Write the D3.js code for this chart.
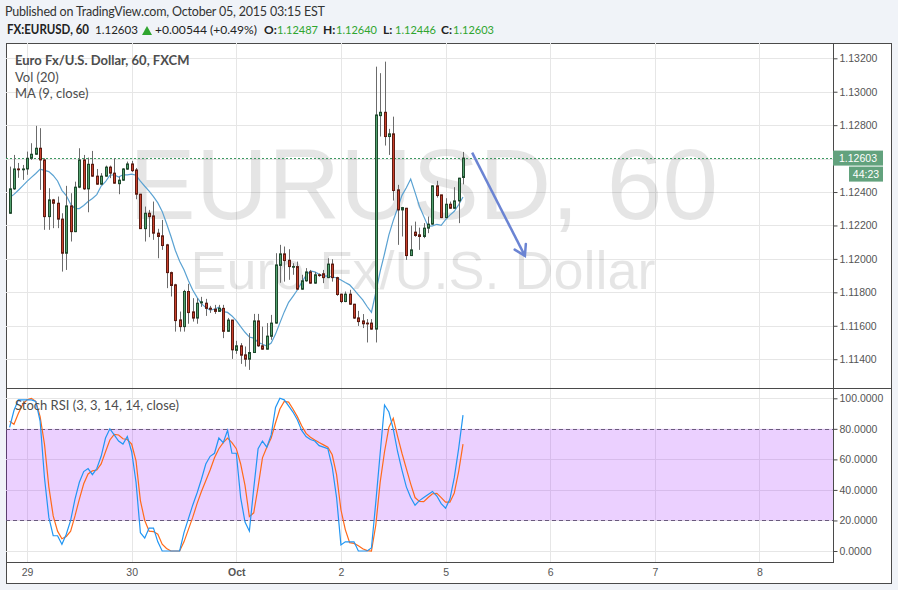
<!DOCTYPE html>
<html><head><meta charset="utf-8">
<script src="https://cdnjs.cloudflare.com/ajax/libs/d3/7.8.5/d3.min.js"></script>
<style>
html,body{margin:0;padding:0;background:#f0f3f8;}
svg{display:block;}
</style></head><body>
<svg id="chart" width="898" height="590"></svg>
<script>
// ---------- DATA ----------
const opens=[1.12273,1.12419,1.12538,1.12535,1.12538,1.12602,1.12626,1.12662,1.12592,1.12253,
1.12353,1.12333,1.12238,1.12034,1.12317,1.12163,1.12429,1.12592,1.12419,1.12566,
1.12495,1.12447,1.12495,1.12549,1.12513,1.12450,1.12471,1.12537,1.12568,1.12532,
1.12387,1.12181,1.12273,1.12257,1.12154,1.12138,1.12084,1.11918,1.11845,1.11635,
1.11595,1.11805,1.11683,1.11646,1.11737,1.11735,1.11705,1.11699,1.11686,1.11704,
1.11567,1.11634,1.11453,1.11480,1.11426,1.11400,1.11440,1.11629,1.11480,1.11460,
1.11537,1.11616,1.11961,1.12030,1.11992,1.11954,1.11954,1.11819,1.11869,1.11922,
1.11855,1.11905,1.11911,1.11888,1.11969,1.11888,1.11789,1.11745,1.11789,1.11729,
1.11647,1.11629,1.11616,1.11616,1.11580,1.12857,1.12877,1.12732,1.12748,1.12413,
1.12293,1.12303,1.12020,1.12160,1.12144,1.12134,1.12184,1.12208,1.12437,1.12383,
1.12247,1.12327,1.12303,1.12347,1.12487];
const highs=[1.12552,1.12622,1.12574,1.12562,1.12642,1.12692,1.12796,1.12782,1.12602,1.12423,
1.12359,1.12373,1.12273,1.12437,1.12393,1.12462,1.12662,1.12622,1.12606,1.12646,
1.12538,1.12513,1.12558,1.12558,1.12602,1.12492,1.12543,1.12582,1.12586,1.12544,
1.12389,1.12313,1.12293,1.12343,1.12180,1.12233,1.12090,1.11924,1.11851,1.11685,
1.11815,1.11851,1.11765,1.11765,1.11773,1.11761,1.11719,1.11725,1.11725,1.11725,
1.11647,1.11635,1.11510,1.11496,1.11476,1.11556,1.11671,1.11671,1.11595,1.11616,
1.11665,1.12034,1.12084,1.12074,1.12058,1.11974,1.11984,1.11905,1.11945,1.11934,
1.11922,1.11913,1.11934,1.12004,1.11998,1.11893,1.11791,1.11805,1.11815,1.11731,
1.11689,1.11670,1.11640,1.11640,1.13150,1.13111,1.13180,1.12778,1.12851,1.12443,
1.12311,1.12305,1.12199,1.12223,1.12187,1.12214,1.12253,1.12440,1.12467,1.12383,
1.12363,1.12343,1.12429,1.12485,1.12640];
const lows=[1.12269,1.12413,1.12485,1.12473,1.12503,1.12592,1.12622,1.12413,1.12174,1.12174,
1.12184,1.12184,1.11924,1.11934,1.12104,1.12160,1.12423,1.12413,1.12279,1.12491,
1.12443,1.12443,1.12491,1.12483,1.12450,1.12387,1.12467,1.12532,1.12520,1.12357,
1.12179,1.12104,1.12130,1.12114,1.12004,1.12054,1.11825,1.11775,1.11565,1.11565,
1.11565,1.11612,1.11625,1.11612,1.11713,1.11659,1.11677,1.11671,1.11683,1.11526,
1.11564,1.11402,1.11432,1.11372,1.11356,1.11336,1.11438,1.11474,1.11456,1.11457,
1.11516,1.11612,1.11857,1.11864,1.11875,1.11905,1.11815,1.11815,1.11863,1.11851,
1.11851,1.11893,1.11855,1.11885,1.11864,1.11779,1.11735,1.11741,1.11725,1.11641,
1.11599,1.11586,1.11500,1.11576,1.11500,1.12732,1.12678,1.12622,1.12349,1.12084,
1.12134,1.11994,1.12017,1.12132,1.12054,1.12124,1.12154,1.12204,1.12367,1.12244,
1.12244,1.12299,1.12299,1.12214,1.12446];
const closes=[1.12419,1.12538,1.12535,1.12538,1.12602,1.12626,1.12662,1.12592,1.12253,1.12353,
1.12333,1.12238,1.12034,1.12317,1.12163,1.12429,1.12592,1.12419,1.12566,1.12495,
1.12447,1.12495,1.12549,1.12513,1.12453,1.12471,1.12538,1.12568,1.12528,1.12387,
1.12181,1.12273,1.12253,1.12154,1.12134,1.12080,1.11918,1.11841,1.11631,1.11595,
1.11805,1.11679,1.11646,1.11735,1.11743,1.11704,1.11699,1.11686,1.11705,1.11567,
1.11634,1.11456,1.11480,1.11424,1.11400,1.11440,1.11629,1.11480,1.11460,1.11538,
1.11616,1.11964,1.12030,1.11990,1.11954,1.11955,1.11819,1.11869,1.11922,1.11855,
1.11905,1.11903,1.11888,1.11969,1.11888,1.11787,1.11745,1.11789,1.11729,1.11646,
1.11625,1.11612,1.11615,1.11580,1.12861,1.12877,1.12732,1.12748,1.12409,1.12293,
1.12307,1.12020,1.12054,1.12140,1.12134,1.12184,1.12208,1.12437,1.12379,1.12247,
1.12327,1.12303,1.12347,1.12483,1.12603];
// MA(9) values of the first 8 bars (earlier closes are off-chart)
const maLead=[1.12368,1.12386,1.12411,1.12437,1.12464,1.12488,1.12511,1.12537];
const stochK=[81,92,99,99,99,99,98,85,48,22,10,10,4.4,11,20,34,45,52,54,50,
54,62,74,80,76,72,70,75,65,45,12,8.5,15,15,6,0,0,0,0,0,
12,21,30,38,47,57,62,64,74,71,79,64,64,35,19,13,41,67,72,68,
76,94,100,99,95,91,86,79,75,73,72,69,68,67,55,35,4,6,6,6,
0,0,0,2,32,64,95.6,91,80,65,53,42,35,30,33,35,37,39,36,31,
28,34,48,67,89];
const stochD=[85,83,90,96,99,100,98,88,70,42,23,13,8,9.5,13,23,34,44,50.5,52.5,
53,57,65,72.7,76.4,76,73.5,73,70,59,33,20,13,12.7,11,4.5,1.7,0,0,0,
6,14,22,31,39,46,53,61,67,71,74,71,67,57,43,22.5,25,42,61,68,
74,84,93,98,97.5,93,88,82,77,74.5,72.7,71,69.5,68,63,50,27,14,5.5,5,
3.5,1.5,0.3,0,17,45,65,81,86.9,75,64,54,44,35,32.5,32.3,35,37.5,37.8,35,
32,32,38,52,70];
const priceTicks=[1.114,1.116,1.118,1.120,1.122,1.124,1.126,1.128,1.130,1.132];
const stochTicks=[0,20,40,60,80,100];
const dayLabels=["29","30","Oct","2","5","6","7","8"];
const dayTickBars=[4,28,52,76,100,124,148,172];
const headerFields=[["O:","1.12487"],["H:","1.12640"],["L:","1.12446"],["C:","1.12603"]];
const lastPrice=1.12603, countdown="44:23";
const arrowFrom=[106.1,1.12636], arrowTo=[118.2,1.12018];

// ---------- LAYOUT ----------
const L=6, R=833, T=43, SPLIT=388, B=562, OR=891, OB=583;
const N=closes.length;
const svg=d3.select("#chart");
const x=d3.scaleLinear().domain([0,104]).range([9.6,463]);
const y=d3.scaleLinear().domain([1.114,1.132]).range([359.2,58.3]);
const ys=d3.scaleLinear().domain([0,100]).range([551,398.3]);
const FONT="Lato, 'Open Sans', sans-serif";
const AX="'Liberation Sans', Arial, sans-serif";

const defs=svg.append("defs");
defs.append("clipPath").attr("id","cp").append("rect").attr("x",L).attr("y",T).attr("width",R-L).attr("height",SPLIT-T);
defs.append("clipPath").attr("id","cs").append("rect").attr("x",L).attr("y",SPLIT).attr("width",R-L).attr("height",B-SPLIT);

svg.append("rect").attr("width",898).attr("height",590).attr("fill","#f0f3f8");
svg.append("rect").attr("x",L+0.5).attr("y",T+0.5).attr("width",OR-L).attr("height",OB-T).attr("fill","#fff").attr("stroke","#4a4a4a");

// grid
const grid=svg.append("g").attr("stroke","#e6e6e6").attr("stroke-width",1);
priceTicks.forEach(p=>grid.append("line").attr("x1",L).attr("x2",R).attr("y1",Math.round(y(p))+0.5).attr("y2",Math.round(y(p))+0.5));
stochTicks.forEach(v=>grid.append("line").attr("x1",L).attr("x2",R).attr("y1",Math.round(ys(v))+0.5).attr("y2",Math.round(ys(v))+0.5));
dayTickBars.forEach(b=>grid.append("line").attr("x1",Math.round(x(b))+0.5).attr("x2",Math.round(x(b))+0.5).attr("y1",T).attr("y2",B));

// stoch band
svg.append("rect").attr("x",L).attr("width",R-L).attr("y",ys(80)).attr("height",ys(20)-ys(80)).attr("fill","rgba(153,21,255,0.2)");
[80,20].forEach(v=>svg.append("line").attr("x1",L).attr("x2",R).attr("y1",Math.round(ys(v))+0.5).attr("y2",Math.round(ys(v))+0.5)
  .attr("stroke","#6a5a7e").attr("stroke-dasharray","4,3"));

// watermark
const wm=svg.append("g").attr("clip-path","url(#cp)").attr("fill","rgba(0,0,0,0.1)").attr("font-family",AX).attr("text-anchor","middle");
wm.append("text").attr("x",423.5).attr("y",219).attr("font-size",100).text("EURUSD, 60");
wm.append("text").attr("x",423).attr("y",289).attr("font-size",54).text("Euro Fx/U.S. Dollar");

// last price line
svg.append("line").attr("x1",L).attr("x2",R).attr("y1",Math.round(y(lastPrice))+0.5).attr("y2",Math.round(y(lastPrice))+0.5)
  .attr("stroke","#3d9a62").attr("stroke-dasharray","2,2");

// MA(9, close)
const ma=closes.map((c,i)=> i<8 ? maLead[i] : d3.mean(closes.slice(i-8,i+1)));
const gp=svg.append("g").attr("clip-path","url(#cp)");
gp.append("path").datum(ma).attr("fill","none").attr("stroke","#5aa2d2").attr("stroke-width",1.2)
  .attr("d",d3.line().x((d,i)=>x(i)).y(d=>y(d)));

// candles
const idx=d3.range(N);
gp.selectAll(".wick").data(idx).join("line")
  .attr("x1",i=>Math.round(x(i))+0.5).attr("x2",i=>Math.round(x(i))+0.5)
  .attr("y1",i=>y(highs[i])).attr("y2",i=>y(lows[i]))
  .attr("stroke","#6b6b6b").attr("stroke-width",1);
gp.selectAll(".body").data(idx).join("rect")
  .attr("x",i=>Math.round(x(i))-0.5).attr("width",2)
  .attr("y",i=>y(Math.max(opens[i],closes[i])))
  .attr("height",i=>Math.max(0.8,Math.abs(y(opens[i])-y(closes[i]))))
  .attr("fill",i=>closes[i]>=opens[i]?"#53a16f":"#c9402c")
  .attr("stroke",i=>closes[i]>=opens[i]?"#1f4a2d":"#5e1c12").attr("stroke-width",1);

// stoch lines
const gs=svg.append("g").attr("clip-path","url(#cs)");
const sl=d3.line().x((d,i)=>x(i)).y(d=>ys(d));
gs.append("path").datum(stochD).attr("fill","none").attr("stroke","#ff6a1a").attr("stroke-width",1.2).attr("d",sl);
gs.append("path").datum(stochK).attr("fill","none").attr("stroke","#2196f3").attr("stroke-width",1.2).attr("d",sl);

// frame lines
const fr=svg.append("g").attr("stroke","#4a4a4a");
fr.append("line").attr("x1",R+0.5).attr("x2",R+0.5).attr("y1",T).attr("y2",B+1);
fr.append("line").attr("x1",L).attr("x2",OR).attr("y1",SPLIT+0.5).attr("y2",SPLIT+0.5);
fr.append("line").attr("x1",L).attr("x2",R+1).attr("y1",B+0.5).attr("y2",B+0.5);

// axes
function styleAxis(g){
  g.select(".domain").remove();
  g.selectAll(".tick line").attr("stroke","#4a4a4a");
  g.selectAll("text").attr("fill","#555").attr("font-family",AX).attr("font-size","10.5px");
}
svg.append("g").attr("transform",`translate(${R+0.5},0)`)
  .call(d3.axisRight(y).tickValues(priceTicks).tickSize(4).tickPadding(2).tickFormat(d3.format(".5f")))
  .call(styleAxis);
svg.append("g").attr("transform",`translate(${R+0.5},0)`)
  .call(d3.axisRight(ys).tickValues(stochTicks).tickSize(4).tickPadding(2).tickFormat(d3.format(".4f")))
  .call(styleAxis);
const xa=svg.append("g").attr("transform",`translate(0,${B})`)
  .call(d3.axisBottom(x).tickValues(dayTickBars).tickSize(0).tickPadding(7).tickFormat((d,i)=>dayLabels[i]))
  .call(styleAxis);
xa.selectAll("text").attr("font-weight",(d,i)=>dayLabels[i]==="Oct"?"bold":"normal");

// price tags
const ty=y(lastPrice);
svg.append("rect").attr("x",R).attr("y",ty-7.5).attr("width",50).attr("height",15).attr("fill","#62a27d");
svg.append("text").attr("x",R+25).attr("y",ty+4).attr("text-anchor","middle").attr("fill","#fff")
  .attr("font-family",AX).attr("font-size","10.5px").text(d3.format(".5f")(lastPrice));
svg.append("rect").attr("x",849).attr("y",ty+8.5).attr("width",34).attr("height",15).attr("fill","#62a27d");
svg.append("text").attr("x",866).attr("y",ty+20).attr("text-anchor","middle").attr("fill","#fff")
  .attr("font-family",AX).attr("font-size","10.5px").text(countdown);

// arrow drawing
const ax1=x(arrowFrom[0]), ay1=y(arrowFrom[1]), ax2=x(arrowTo[0]), ay2=y(arrowTo[1]);
const ang=Math.atan2(ay1-ay2, ax1-ax2), hl=12, spread=0.55;
const arrowCol="#6b84d3";
svg.append("line").attr("x1",ax1).attr("y1",ay1).attr("x2",ax2).attr("y2",ay2).attr("stroke",arrowCol).attr("stroke-width",2.5);
svg.append("path").attr("fill","none").attr("stroke",arrowCol).attr("stroke-width",2.5).attr("stroke-linecap","round")
  .attr("d",`M${ax2+hl*Math.cos(ang+spread)},${ay2+hl*Math.sin(ang+spread)}L${ax2},${ay2}L${ax2+hl*Math.cos(ang-spread)},${ay2+hl*Math.sin(ang-spread)}`);

// legends
const lg=svg.append("g").attr("font-family",FONT).attr("fill","#4d4d4d").attr("font-size","13px");
lg.append("text").attr("x",15).attr("y",65).attr("font-weight","bold").text("Euro Fx/U.S. Dollar, 60, FXCM");
lg.append("text").attr("x",15).attr("y",82).text("Vol (20)");
lg.append("text").attr("x",15).attr("y",98).text("MA (9, close)");
lg.append("text").attr("x",15).attr("y",410).text("Stoch RSI (3, 3, 14, 14, close)");

// header
svg.append("text").attr("x",5).attr("y",16).attr("font-family",FONT).attr("font-size","12.5px").attr("fill","#333")
  .attr("textLength",320).attr("lengthAdjust","spacing")
  .text("Published on TradingView.com, October 05, 2015 03:15 EST");
const GREEN="#2fa52f";
const h2=svg.append("text").attr("y",34).attr("font-family",FONT).attr("font-size","12px").attr("fill","#222");
h2.append("tspan").attr("x",7).attr("font-weight","bold").attr("font-size","12.5px")
  .attr("textLength",82).attr("lengthAdjust","spacingAndGlyphs").text("FX:EURUSD, 60");
h2.append("tspan").attr("x",95).attr("textLength",43).attr("lengthAdjust","spacingAndGlyphs").text("1.12603");
h2.append("tspan").attr("x",155).attr("textLength",102).attr("lengthAdjust","spacingAndGlyphs").text("+0.00544 (+0.49%)");
const fieldX=[[264,277],[323,336],[383,395],[441,453]];
headerFields.forEach(([k,v],j)=>{
  h2.append("tspan").attr("x",fieldX[j][0]).attr("font-weight","bold").text(k);
  h2.append("tspan").attr("x",fieldX[j][1]).attr("fill",GREEN).attr("textLength",41).attr("lengthAdjust","spacingAndGlyphs").text(v);
});
svg.append("path").attr("d","M142,35L147,26L152,35Z").attr("fill",GREEN);
</script>
</body></html>
